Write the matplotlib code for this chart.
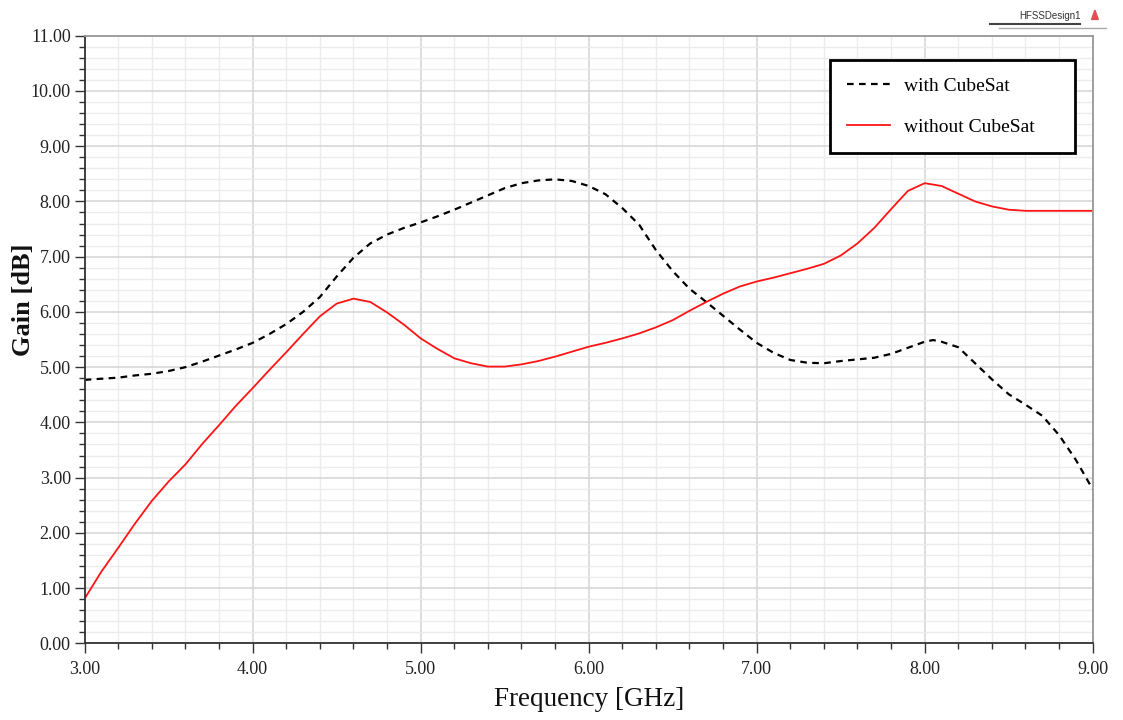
import numpy as np
import matplotlib
matplotlib.use("Agg")
import matplotlib.pyplot as plt
from matplotlib.lines import Line2D
from matplotlib.patches import Polygon

# Gain vs frequency
freq_with = [3.0, 3.1, 3.2, 3.3, 3.4, 3.5, 3.6, 3.7, 3.8, 3.9,
             4.0, 4.1, 4.2, 4.3, 4.4, 4.5, 4.6, 4.7, 4.8, 4.9,
             5.0, 5.1, 5.2, 5.3, 5.4, 5.5, 5.6, 5.7, 5.8, 5.9,
             6.0, 6.1, 6.2, 6.3, 6.4, 6.5, 6.6, 6.7, 6.8, 6.9,
             7.0, 7.1, 7.2, 7.3, 7.4, 7.5, 7.6, 7.7, 7.8, 7.9,
             8.0, 8.05, 8.1, 8.2, 8.3, 8.4, 8.5, 8.6, 8.7, 8.8, 8.9, 9.0]
gain_with = [4.77, 4.79, 4.81, 4.85, 4.88, 4.93, 5.00, 5.10, 5.21, 5.32,
             5.44, 5.60, 5.78, 6.00, 6.27, 6.64, 6.98, 7.24, 7.40, 7.52,
             7.62, 7.73, 7.85, 7.98, 8.11, 8.24, 8.33, 8.38, 8.40, 8.37,
             8.28, 8.13, 7.88, 7.58, 7.12, 6.74, 6.42, 6.18, 5.93, 5.68,
             5.44, 5.26, 5.13, 5.08, 5.07, 5.11, 5.14, 5.17, 5.24, 5.35,
             5.46, 5.49, 5.46, 5.36, 5.07, 4.78, 4.51, 4.32, 4.12, 3.77, 3.32, 2.79]

freq_without = [3.0, 3.1, 3.2, 3.3, 3.4, 3.5, 3.6, 3.7, 3.8, 3.9,
                4.0, 4.1, 4.2, 4.3, 4.4, 4.5, 4.6, 4.7, 4.8, 4.9,
                5.0, 5.1, 5.2, 5.3, 5.4, 5.5, 5.6, 5.7, 5.8, 5.9,
                6.0, 6.1, 6.2, 6.3, 6.4, 6.5, 6.6, 6.7, 6.8, 6.9,
                7.0, 7.1, 7.2, 7.3, 7.4, 7.5, 7.6, 7.7, 7.8, 7.9,
                8.0, 8.1, 8.2, 8.3, 8.4, 8.5, 8.6, 8.7, 9.0]
gain_without = [0.81, 1.30, 1.73, 2.17, 2.58, 2.93, 3.24, 3.61, 3.95, 4.30,
                4.62, 4.95, 5.27, 5.60, 5.92, 6.15, 6.24, 6.18, 5.99, 5.77,
                5.52, 5.33, 5.16, 5.07, 5.01, 5.01, 5.05, 5.11, 5.19, 5.28,
                5.37, 5.44, 5.52, 5.61, 5.72, 5.85, 6.02, 6.18, 6.33, 6.46,
                6.55, 6.62, 6.70, 6.78, 6.87, 7.02, 7.24, 7.52, 7.86, 8.19,
                8.33, 8.28, 8.14, 8.00, 7.91, 7.85, 7.83, 7.83, 7.83]

serif = ["Liberation Serif", "DejaVu Serif"]

fig = plt.figure(figsize=(11.23, 7.2), dpi=100)
ax = fig.add_axes([0.0754, 0.1065, 0.8976, 0.8439])

ax.plot(freq_with, gain_with, color="black", lw=1.6, dashes=(3, 2.4),
        label="with CubeSat", solid_joinstyle="round", dash_joinstyle="round")
ax.plot(freq_without, gain_without, color="#ff1414", lw=1.3,
        label="without CubeSat", solid_joinstyle="round")

ax.set_xlim(3, 9)
ax.set_ylim(0, 11)
ax.set_xticks(np.arange(3, 9.01, 1))
ax.set_xticks(np.arange(3, 9.01, 0.2), minor=True)
ax.set_yticks(np.arange(0, 11.01, 1))
ax.set_yticks(np.arange(0, 11.01, 0.2), minor=True)
ax.set_xticklabels(["%.2f" % v for v in np.arange(3, 9.01, 1)])
ax.set_yticklabels(["%.2f" % v for v in np.arange(0, 11.01, 1)])

for lab in ax.get_xticklabels() + ax.get_yticklabels():
    lab.set_family(serif)
    lab.set_fontsize(13)
    lab.set_color("#222222")

ax.tick_params(which="major", direction="out", length=7, width=1, color="#333333", pad=3)
ax.tick_params(which="minor", direction="out", length=4, width=1, color="#333333")
ax.tick_params(axis="x", which="major", pad=6)

ax.grid(which="minor", color="#ececec", lw=1)
ax.grid(which="major", color="#d4d4d4", lw=1.1)
ax.set_axisbelow(True)

for side in ["left", "bottom"]:
    ax.spines[side].set_color("#333333")
    ax.spines[side].set_linewidth(1.3)
for side in ["top", "right"]:
    ax.spines[side].set_color("#999999")
    ax.spines[side].set_linewidth(1.3)

ax.set_xlabel("Frequency [GHz]", family=serif, fontsize=19.5, color="#111111", labelpad=6)
ax.set_ylabel("Gain [dB]", family=serif, fontsize=19, fontweight="bold",
              color="#111111")
ax.yaxis.set_label_coords(-0.049, 0.565)

leg = ax.legend(loc="upper left", bbox_to_anchor=(0.7392, 0.9605, 0.2433, 0.0),
                mode="expand", fancybox=False, framealpha=1, edgecolor="black",
                prop={"family": serif, "size": 14}, handlelength=2.2,
                handletextpad=0.7, labelspacing=1.2, borderpad=0.9,
                borderaxespad=0)
leg.get_frame().set_linewidth(2)

# HFSS title block at top right
fig.text(0.962, 0.978, "HFSSDesign1", family="Liberation Sans", fontsize=7,
         ha="right", va="center", color="#333333")
fig.add_artist(Line2D([0.882, 0.962], [0.967, 0.967], color="#444444", lw=1.5))
fig.add_artist(Line2D([0.89, 0.985], [0.961, 0.961], color="#aaaaaa", lw=1))
fig.add_artist(Polygon([[0.972, 0.973], [0.978, 0.973], [0.975, 0.986]],
                       closed=True, color="#e05050"))

fig.savefig("out.png", dpi=100)
